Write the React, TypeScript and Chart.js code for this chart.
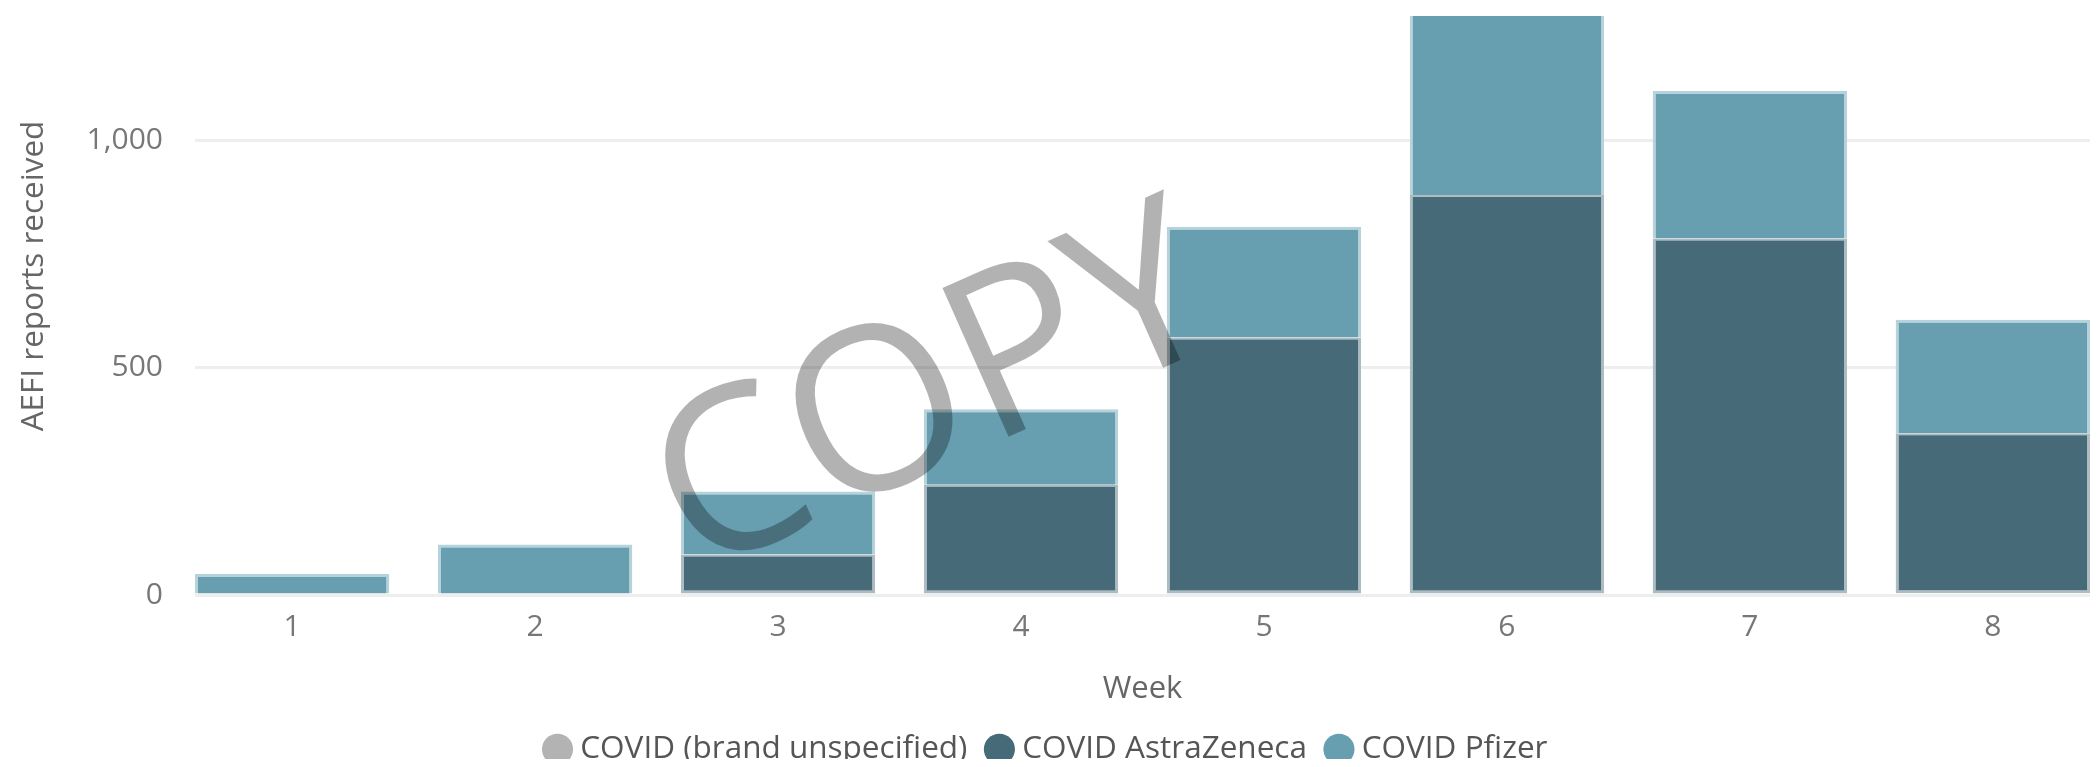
import React, { useEffect, useRef } from "react";
import { Chart, registerables } from "chart.js";

Chart.register(...registerables);

const weeks = [1, 2, 3, 4, 5, 6, 7, 8];
const unspecified = [0, 0, 0, 0, 0, 0, 0, 4];
const astraZeneca = [0, 0, 89, 243, 567, 881, 785, 352];
const pfizer = [46, 111, 139, 166, 244, 409, 325, 250];
const yTicks = [0, 500, 1000];
const seriesNames = ["COVID (brand unspecified)", "COVID AstraZeneca", "COVID Pfizer"];
const xTitle = "Week";
const yTitle = "AEFI reports received";
const watermark = "COPY";

const FONT = "'Open Sans', 'Noto Sans', sans-serif";

const overlayPlugin = {
  id: "overlay",
  afterDraw(chart: any) {
    const ctx = chart.ctx;
    ctx.save();
    ctx.translate(26, 268);
    ctx.rotate(-Math.PI / 2);
    ctx.font = `31.5px ${FONT}`;
    ctx.fillStyle = "#666666";
    ctx.textAlign = "center";
    ctx.textBaseline = "middle";
    ctx.fillText(yTitle, 0, 0);
    ctx.restore();

    ctx.save();
    ctx.translate(922, 376);
    ctx.rotate((-24 * Math.PI) / 180);
    ctx.font = `228px ${FONT}`;
    ctx.fillStyle = "rgba(0,0,0,0.3)";
    ctx.textAlign = "center";
    ctx.textBaseline = "alphabetic";
    ctx.fillText(watermark, 0, 80);
    ctx.restore();
  },
};

const zeroPad = (scale: any) => {
  scale.paddingTop = 0;
  scale.paddingBottom = 0;
  scale.paddingLeft = 0;
  scale.paddingRight = 0;
};

export default function App() {
  const ref = useRef<HTMLCanvasElement>(null);
  useEffect(() => {
    if (!ref.current) return;
    const toPts = (arr: number[]) => weeks.map((w, i) => ({ x: w, y: arr[i] }));
    const chart = new Chart(ref.current, {
      type: "bar",
      data: {
        datasets: [
          {
            label: seriesNames[0],
            data: toPts(unspecified),
            backgroundColor: "#b3b3b3",
            borderColor: "#d2d2d2",
            borderWidth: { left: 3, right: 3, top: 1, bottom: 1 },
            borderSkipped: false,
          },
          {
            label: seriesNames[1],
            data: toPts(astraZeneca),
            backgroundColor: "#466a78",
            borderColor: "#adbcc2",
            borderWidth: { left: 3, right: 3, top: 2, bottom: 3 },
            borderSkipped: false,
          },
          {
            label: seriesNames[2],
            data: toPts(pfizer),
            backgroundColor: "#679fb0",
            borderColor: "#b6d2da",
            borderWidth: { left: 3, right: 3, top: 3, bottom: 0 },
            borderSkipped: false,
          },
        ] as any,
      },
      options: {
        animation: false,
        responsive: false,
        devicePixelRatio: 1,
        categoryPercentage: 1,
        barPercentage: 0.8,
        layout: { autoPadding: false, padding: { top: 8, right: 2, left: 0, bottom: -8 } },
        scales: {
          x: {
            type: "linear",
            stacked: true,
            offset: false,
            min: 0.6,
            max: 8.4,
            grid: { display: false, drawTicks: false, offset: false },
            border: { display: false },
            afterBuildTicks: (scale: any) => {
              scale.ticks = weeks.map((v) => ({ value: v }));
            },
            afterFit: (scale: any) => {
              scale.height = 113.5;
              zeroPad(scale);
            },
            ticks: {
              stepSize: 1,
              includeBounds: false,
              padding: 14,
              color: "#777777",
              font: { size: 30, family: FONT },
              callback: (v: any) => String(v),
            },
            title: {
              display: true,
              text: xTitle,
              color: "#666666",
              font: { size: 31, family: FONT },
              padding: { top: 0, bottom: 1 },
            },
          },
          y: {
            stacked: true,
            min: 0,
            max: 1275,
            grid: { color: "#eeeeee", lineWidth: 3, drawTicks: false },
            border: { display: false },
            afterBuildTicks: (scale: any) => {
              scale.ticks = yTicks.map((v) => ({ value: v }));
            },
            afterFit: (scale: any) => {
              scale.width = 187;
              zeroPad(scale);
            },
            ticks: {
              stepSize: 500,
              includeBounds: false,
              padding: 32,
              color: "#777777",
              font: { size: 30, family: FONT },
              callback: (v: any) => Number(v).toLocaleString("en-US"),
            },
          },
        },
        plugins: {
          tooltip: { enabled: false },
          legend: {
            position: "bottom",
            labels: {
              usePointStyle: true,
              pointStyle: "circle",
              boxWidth: 14,
              boxHeight: 22,
              padding: 25,
              color: "#555555",
              font: { size: 31.5, family: FONT },
              generateLabels: (c: any) =>
                Chart.defaults.plugins.legend.labels
                  .generateLabels(c)
                  .map((it: any) => ({ ...it, strokeStyle: it.fillStyle, lineWidth: 0 })),
            },
          },
        },
      } as any,
      plugins: [overlayPlugin],
    });
    return () => chart.destroy();
  }, []);
  return (
    <canvas
      ref={ref}
      width={2084}
      height={759}
      style={{ display: "block", marginBottom: -8 }}
    />
  );
}
